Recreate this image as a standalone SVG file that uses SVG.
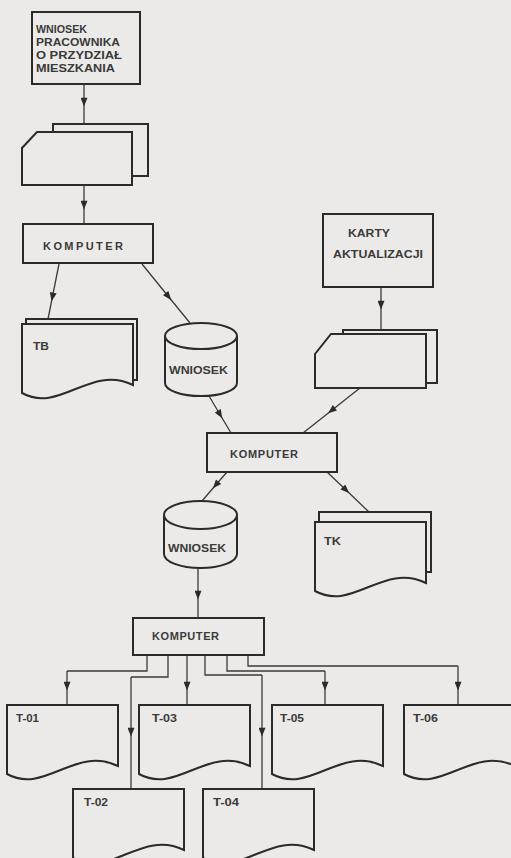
<svg xmlns="http://www.w3.org/2000/svg" xmlns:xlink="http://www.w3.org/1999/xlink" width="511" height="858" viewBox="0 0 511 858">
<defs>
<style>
.bg{fill:#ebeae8}
.sh{fill:#ebeae8;stroke:#2b2b2b;stroke-width:2;stroke-linejoin:miter}
.bk{fill:none;stroke:#2b2b2b;stroke-width:2}
.cn{fill:none;stroke:#3a3a3a;stroke-width:1.3}
.ar{marker-mid:url(#ah)}
text{font-family:"Liberation Sans",Arial,sans-serif;font-weight:bold;fill:#3a3a3a}
.t10{font-size:10px}
.t11{font-size:11px}
</style>
<marker id="ah" viewBox="0 0 10 8" refX="5" refY="4" markerUnits="userSpaceOnUse" markerWidth="10" markerHeight="7" orient="auto">
<path d="M0,0 L10,4 L0,8 Z" fill="#2b2b2b"/>
</marker>
<path id="doc" d="M0,0 H111 V61 C68,40 38,90 0,69 Z"/>
</defs>
<rect class="bg" x="0" y="0" width="511" height="858"/>

<g id="connectors">
<path class="cn ar" d="M84,84 L84,102 L84,124"/>
<path class="cn ar" d="M84,185 L84,205 L84,224"/>
<path class="cn ar" d="M59,264 L52.4,297 L48,319"/>
<path class="cn ar" d="M142,264 L168.4,296.5 L190,323"/>
<path class="cn ar" d="M209,396 L220,414.5 L231,433"/>
<path class="cn ar" d="M381,287 L381,305 L381,330"/>
<path class="cn ar" d="M360,388 L331.5,410.5 L303,433"/>
<path class="cn ar" d="M227,472 L215.75,485 L202,501"/>
<path class="cn ar" d="M327,472 L346,490 L369,512"/>
<path class="cn ar" d="M198,568 L198,595 L198,618"/>
<path class="cn" d="M147,656 V671 H67"/>
<path class="cn ar" d="M67,671 L67,686 L67,705"/>
<path class="cn" d="M168,656 V677 H131"/>
<path class="cn ar" d="M131,677 L131,732 L131,789"/>
<path class="cn ar" d="M187,656 L187,686 L187,705"/>
<path class="cn" d="M205,656 V675 H262"/>
<path class="cn ar" d="M262,675 L262,732 L262,789"/>
<path class="cn" d="M227,656 V671 H325"/>
<path class="cn ar" d="M325,671 L325,686 L325,705"/>
<path class="cn" d="M248,656 V666 H458"/>
<path class="cn ar" d="M458,666 L458,686 L458,705"/>
</g>

<g id="wniosek-pracownika">
<rect class="sh" x="32" y="12" width="108" height="72"/>
<text class="t10" x="36" y="33" textLength="51" lengthAdjust="spacingAndGlyphs">WNIOSEK</text>
<text class="t10" x="36" y="46" textLength="84" lengthAdjust="spacingAndGlyphs">PRACOWNIKA</text>
<text class="t10" x="36" y="59" textLength="86" lengthAdjust="spacingAndGlyphs">O PRZYDZIAŁ</text>
<text class="t10" x="36" y="72" textLength="79" lengthAdjust="spacingAndGlyphs">MIESZKANIA</text>
</g>

<g id="card1">
<path class="bk" d="M53,132 V124 H148 V176 H132"/>
<path class="sh" d="M37,132 H132 V185 H22 V148 Z"/>
</g>

<g id="komputer1">
<rect class="sh" x="23" y="224" width="130" height="39"/>
<text class="t11" x="43" y="250" textLength="80" lengthAdjust="spacing">KOMPUTER</text>
</g>

<g id="tb">
<path class="bk" d="M26,324 V319 H137 V380 H133"/>
<use href="#doc" class="sh" transform="translate(22,324)"/>
<text class="t10" x="33" y="350" textLength="16" lengthAdjust="spacingAndGlyphs">TB</text>
</g>

<g id="wniosek1">
<path class="sh" d="M165,336 A36,13 0 0 1 237,336 V383 A36,13 0 0 1 165,383 Z"/>
<path class="bk" d="M165,336 A36,13 0 0 0 237,336"/>
<text class="t10" x="169" y="374" textLength="59" lengthAdjust="spacingAndGlyphs">WNIOSEK</text>
</g>

<g id="karty">
<rect class="sh" x="323" y="214" width="110" height="73"/>
<text class="t10" x="348" y="237" textLength="42" lengthAdjust="spacingAndGlyphs">KARTY</text>
<text class="t10" x="333" y="258" textLength="90" lengthAdjust="spacingAndGlyphs">AKTUALIZACJI</text>
</g>

<g id="card2">
<path class="bk" d="M343,334 V330 H437 V383 H426"/>
<path class="sh" d="M331,334 H426 V388 H315 V354 Z"/>
</g>

<g id="komputer2">
<rect class="sh" x="207" y="433" width="130" height="39"/>
<text class="t11" x="230" y="458" textLength="68" lengthAdjust="spacing">KOMPUTER</text>
</g>

<g id="wniosek2">
<path class="sh" d="M164,515 A36.5,14 0 0 1 237,515 V554 A36.5,14 0 0 1 164,554 Z"/>
<path class="bk" d="M164,515 A36.5,14 0 0 0 237,515"/>
<text class="t10" x="168" y="552" textLength="58" lengthAdjust="spacingAndGlyphs">WNIOSEK</text>
</g>

<g id="tk">
<path class="bk" d="M319,522 V512 H431 V572 H426"/>
<use href="#doc" class="sh" transform="translate(315,522)"/>
<text class="t10" x="324" y="545" textLength="17" lengthAdjust="spacingAndGlyphs">TK</text>
</g>

<g id="komputer3">
<rect class="sh" x="133" y="618" width="131" height="37"/>
<text class="t11" x="152" y="640" textLength="67" lengthAdjust="spacing">KOMPUTER</text>
</g>

<g id="t01">
<use href="#doc" class="sh" transform="translate(7,705)"/>
<text class="t10" x="16" y="722" textLength="23" lengthAdjust="spacingAndGlyphs">T-01</text>
</g>
<g id="t03">
<use href="#doc" class="sh" transform="translate(139,705)"/>
<text class="t10" x="152" y="722" textLength="25" lengthAdjust="spacingAndGlyphs">T-03</text>
</g>
<g id="t05">
<use href="#doc" class="sh" transform="translate(272,705)"/>
<text class="t10" x="280" y="722" textLength="24" lengthAdjust="spacingAndGlyphs">T-05</text>
</g>
<g id="t06">
<use href="#doc" class="sh" transform="translate(404,705)"/>
<text class="t10" x="413" y="722" textLength="25" lengthAdjust="spacingAndGlyphs">T-06</text>
</g>
<g id="t02">
<use href="#doc" class="sh" transform="translate(73,789)"/>
<text class="t10" x="84" y="806" textLength="24" lengthAdjust="spacingAndGlyphs">T-02</text>
</g>
<g id="t04">
<use href="#doc" class="sh" transform="translate(203,789)"/>
<text class="t10" x="213" y="806" textLength="26" lengthAdjust="spacingAndGlyphs">T-04</text>
</g>
</svg>
